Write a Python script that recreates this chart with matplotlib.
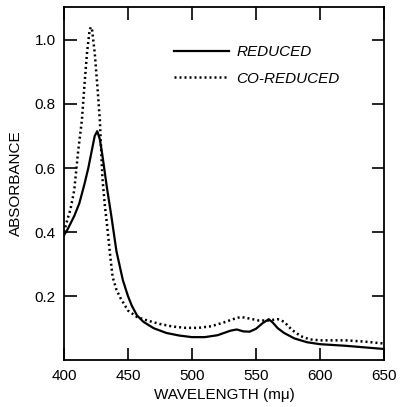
import matplotlib
matplotlib.use("Agg")
import matplotlib.pyplot as plt

plt.rcParams['font.family'] = ['Liberation Sans', 'DejaVu Sans']

# wavelength (m\u03bc) and absorbance
wl_red = [400, 403, 408, 412, 416, 419, 422, 424, 426, 428, 430, 433.5, 437, 441,
          446, 450, 453, 457, 462, 470, 480, 490, 500, 510, 520, 530, 535, 540,
          545, 550, 555, 560, 563, 567, 572, 580, 590, 600, 620, 635, 650]
abs_red = [0.39, 0.41, 0.45, 0.49, 0.55, 0.60, 0.66, 0.70, 0.715, 0.69, 0.64, 0.54,
           0.45, 0.34, 0.25, 0.20, 0.17, 0.14, 0.12, 0.10, 0.085, 0.077, 0.072,
           0.072, 0.078, 0.092, 0.096, 0.090, 0.089, 0.098, 0.115, 0.128, 0.118,
           0.100, 0.085, 0.068, 0.056, 0.050, 0.045, 0.040, 0.035]

wl_co = [400, 402, 405, 408, 411, 414, 416, 418, 420, 421, 422, 424, 426, 428, 430,
         432, 434, 436, 438, 441, 444, 450, 457, 465, 475, 485, 495, 505, 515, 525,
         532, 538, 545, 552, 560, 567, 572, 578, 585, 592, 600, 620, 635, 650]
abs_co = [0.40, 0.43, 0.47, 0.53, 0.65, 0.75, 0.86, 0.96, 1.03, 1.04, 1.03, 0.96,
          0.86, 0.75, 0.57, 0.48, 0.41, 0.33, 0.26, 0.22, 0.195, 0.155, 0.135,
          0.124, 0.113, 0.105, 0.101, 0.101, 0.106, 0.118, 0.128, 0.135, 0.130,
          0.124, 0.124, 0.128, 0.120, 0.095, 0.075, 0.065, 0.062, 0.062, 0.058,
          0.052]

xticks = [400, 450, 500, 550, 600, 650]
yticks = [0.2, 0.4, 0.6, 0.8, 1.0]

fig = plt.figure(figsize=(4.05, 4.07), dpi=100)
ax = fig.add_axes([0.158, 0.115, 0.79, 0.868])

ax.plot(wl_red, abs_red, color='black', lw=1.6, label='REDUCED')
ax.plot(wl_co, abs_co, color='black', lw=1.8, linestyle=(0, (0.8, 1.2)),
        label='CO-REDUCED')

ax.set_xlim(400, 650)
ax.set_ylim(0, 1.103)
ax.set_xticks(xticks)
ax.set_yticks(yticks)
ax.set_yticklabels(['0.2', '0.4', '0.6', '0.8', '1.0'])
ax.tick_params(direction='in', length=9, width=1.2, top=True, right=True,
               labelsize=11, pad=6)
for s in ax.spines.values():
    s.set_linewidth(1.3)

ax.set_xlabel('WAVELENGTH (m\u03bc)', fontsize=11, labelpad=4)
ax.set_ylabel('ABSORBANCE', fontsize=11, labelpad=8)

ax.legend(loc='upper left', bbox_to_anchor=(0.3, 0.93), frameon=False,
          handlelength=3.6, handletextpad=0.5, labelspacing=0.8,
          prop={'style': 'italic', 'size': 11})

fig.savefig('out.png', dpi=100)
